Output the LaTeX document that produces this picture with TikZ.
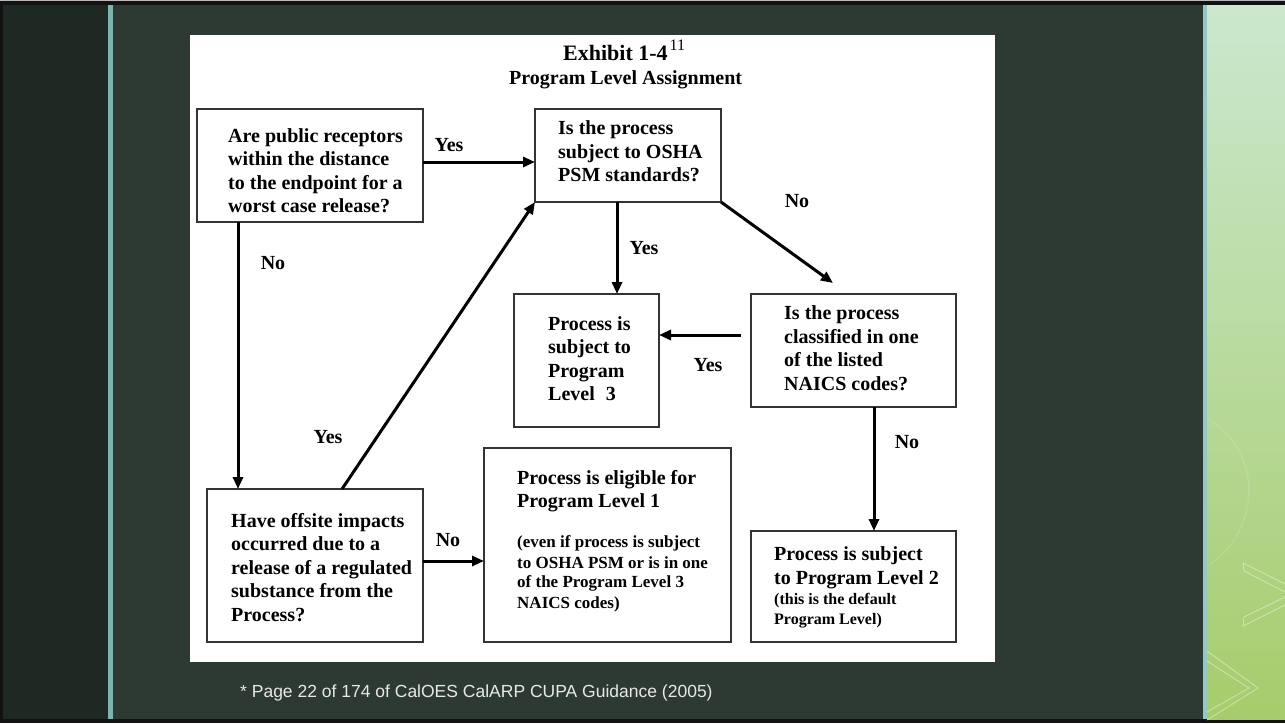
\documentclass[tikz,border=0pt]{standalone}
\usepackage{fontspec}
\setmainfont{Liberation Serif}
\newfontfamily\footfont{Liberation Sans}
\usetikzlibrary{arrows.meta}
\definecolor{framek}{HTML}{121212}
\definecolor{leftpanel}{HTML}{1F2924}
\definecolor{mainbg}{HTML}{2D3A33}
\definecolor{tealA}{HTML}{7DB5AE}
\definecolor{tealB}{HTML}{93C7C8}
\definecolor{greenTop}{HTML}{CBE8CF}
\definecolor{greenMid}{HTML}{BCDFA4}
\definecolor{greenBot}{HTML}{A6CC6B}
\definecolor{boxline}{HTML}{333333}
\definecolor{foottext}{HTML}{E8E8E8}
\begin{document}
\begin{tikzpicture}[x=1pt,y=-1pt,
  box/.style={draw=boxline, line width=1.3pt, fill=white, inner sep=0pt, outer sep=0pt},
  arr/.style={draw=black, line width=3pt, -{Triangle[length=12pt,width=10pt]}},
  lbl/.style={font=\bfseries\fontsize{20}{24}\selectfont, inner sep=0pt},
  big/.style={font=\bfseries\fontsize{20}{24}\selectfont, inner sep=0pt, anchor=base west},
  small/.style={font=\bfseries\fontsize{17}{20}\selectfont, inner sep=0pt, anchor=base west},
  tiny/.style={font=\bfseries\fontsize{16}{20}\selectfont, inner sep=0pt, anchor=base west},
  deco/.style={draw=white, opacity=0.45, line width=0.8pt}
]
\useasboundingbox (0,0) rectangle (1285,723);
% background
\fill[framek] (0,0) rectangle (1285,723);
\fill[gray!55] (0,0) rectangle (1285,1.2);
\fill[leftpanel] (3,5) rectangle (108,719);
\fill[tealA] (108,5) rectangle (113,719);
\fill[mainbg] (113,5) rectangle (1203,719);
\fill[tealB] (1203,5) rectangle (1207,719);
\shade[top color=greenTop, middle color=greenMid, bottom color=greenBot] (1207,5) rectangle (1285,719);
% green panel decorations
\draw[draw=white, opacity=0.12, line width=1.5pt] (1209,420) .. controls (1262,450) and (1262,530) .. (1209,565);
\draw[deco] (1243,563) -- (1285,584);
\draw[deco] (1243,563) -- (1244,571) -- (1285,592);
\draw[deco] (1243,626) -- (1285,605);
\draw[deco] (1243,626) -- (1244,617) -- (1285,597);
\draw[deco] (1207,651) -- (1258,688) -- (1207,720);
\draw[deco] (1207,661) -- (1249,688) -- (1207,712);
% white panel
\fill[white] (190,35) rectangle (995,662);
% title
\node[anchor=base west, inner sep=0pt, font=\bfseries\fontsize{22}{26}\selectfont] (T1) at (563,60)
  {Exhibit 1-4\kern2pt\raisebox{10pt}{\mdseries\fontsize{16}{16}\selectfont 11}};
\node[anchor=base west, inner sep=0pt, font=\bfseries\fontsize{20}{24}\selectfont] (T2) at (509,84)
  {Program Level Assignment};
% boxes
\node[box, minimum width=226pt, minimum height=113pt] (A) at (310,165.5) {};
\node[box, minimum width=186pt, minimum height=93pt] (B) at (628,155.5) {};
\node[box, minimum width=205pt, minimum height=113pt] (C) at (853.5,350.5) {};
\node[box, minimum width=145pt, minimum height=133pt] (D) at (586.5,360.5) {};
\node[box, minimum width=216pt, minimum height=153pt] (E) at (315,565.5) {};
\node[box, minimum width=247pt, minimum height=194pt] (F) at (607.5,545) {};
\node[box, minimum width=205pt, minimum height=111pt] (G) at (853.5,586.5) {};
% box texts
\node[big] (A1) at (228,142) {Are public receptors};
\node[big] (A2) at (228,165.5) {within the distance};
\node[big] (A3) at (228,189) {to the endpoint for a};
\node[big] (A4) at (228,212.5) {worst case release?};
\node[big] (B1) at (558,134.5) {Is the process};
\node[big] (B2) at (558,158) {subject to OSHA};
\node[big] (B3) at (558,181.5) {PSM standards?};
\node[big] (C1) at (784,319.5) {Is the process};
\node[big] (C2) at (784,343) {classified in one};
\node[big] (C3) at (784,366.5) {of the listed};
\node[big] (C4) at (784,390) {NAICS codes?};
\node[big] (D1) at (548,330) {Process is};
\node[big] (D2) at (548,353.5) {subject to};
\node[big] (D3) at (548,377) {Program};
\node[big] (D4) at (548,400.5) {Level\hspace{11pt}3};
\node[big] (E1) at (231,527) {Have offsite impacts};
\node[big] (E2) at (231,550.5) {occurred due to a};
\node[big] (E3) at (231,574) {release of a regulated};
\node[big] (E4) at (231,597.5) {substance from the};
\node[big] (E5) at (231,621) {Process?};
\node[big] (F1) at (517,484) {Process is eligible for};
\node[big] (F2) at (517,507.5) {Program Level 1};
\node[small] (F3) at (517,547.5) {(even if process is subject};
\node[small] (F4) at (517,568) {to OSHA PSM or is in one};
\node[small] (F5) at (517,587.5) {of the Program Level 3};
\node[small] (F6) at (517,608) {NAICS codes)};
\node[big] (G1) at (774,560) {Process is subject};
\node[big] (G2) at (774,584) {to Program Level 2};
\node[tiny] (G3) at (774,604) {(this is the default};
\node[tiny] (G4) at (774,624) {Program Level)};
% connectors
\coordinate (ctip) at (833,283);
\draw[arr] ([yshift=3.5pt]A.east) -- ([yshift=3.5pt]A.east -| B.west);
\draw[arr] ([xshift=41pt]A.south west) -- ([xshift=41pt]A.south west |- E.north);
\draw[arr] ([xshift=135pt]E.north west) -- (B.south west);
\draw[arr] ([xshift=-11pt]B.south) -- ([xshift=-11pt]B.south |- D.north);
\draw[arr] (B.south east) -- (ctip);
\draw[arr] ([xshift=-10pt,yshift=15.5pt]C.west) -- ([yshift=15.5pt]C.west -| D.east);
\draw[arr] ([yshift=4.5pt]E.east) -- ([yshift=4.5pt]E.east -| F.west);
\draw[arr] ([xshift=20.5pt]C.south) -- ([xshift=20.5pt]C.south |- G.north);
% labels
\node[lbl] (L1) at (449,145) {Yes};
\node[lbl] (L2) at (797,201) {No};
\node[lbl] (L3) at (644,248) {Yes};
\node[lbl] (L4) at (273,263) {No};
\node[lbl] (L5) at (328,437) {Yes};
\node[lbl] (L6) at (708,365) {Yes};
\node[lbl] (L7) at (448,540) {No};
\node[lbl] (L8) at (907,442) {No};
% footer
\node[anchor=base west, inner sep=0pt, text=foottext, font=\footfont\fontsize{17.5}{20}\selectfont] (foot) at (240,697)
  {* Page 22 of 174 of CalOES CalARP CUPA Guidance (2005)};
\end{tikzpicture}
\end{document}
